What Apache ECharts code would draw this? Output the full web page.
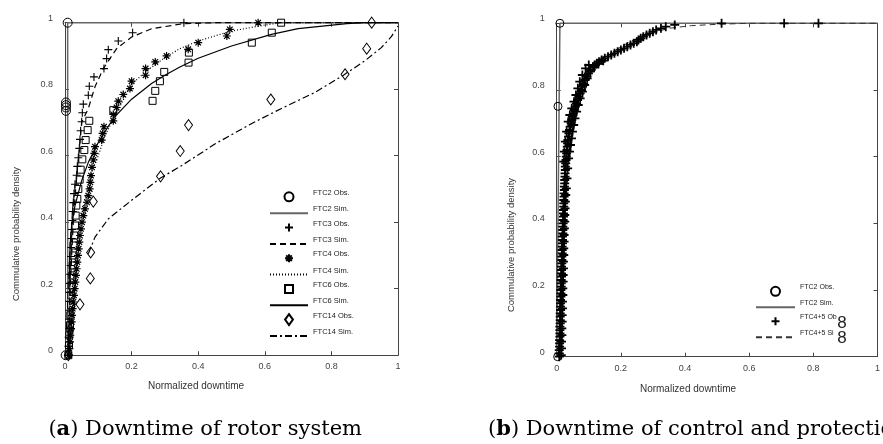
<!DOCTYPE html>
<html><head><meta charset="utf-8">
<script src="https://cdn.jsdelivr.net/npm/echarts@6/dist/echarts.min.js"></script>
<style>html,body{margin:0;padding:0;background:#fff}#c{width:883px;height:444px}</style>
</head><body><div id="c"></div>
<script>
// ---------- data (x = normalized downtime, y = cumulative probability) ----------
const xTickValues = [0, 0.2, 0.4, 0.6, 0.8, 1];
const leftNames = ['FTC2 Obs.','FTC2 Sim.','FTC3 Obs.','FTC3 Sim.','FTC4 Obs.','FTC4 Sim.','FTC6 Obs.','FTC6 Sim.','FTC14 Obs.','FTC14 Sim.'];
const rightNames = ['FTC2 Obs.','FTC2 Sim.','FTC4+5 Obs.','FTC4+5 Sim.'];

const ftc2ObsL = [[0.002,0],[0.003,0.735],[0.003,0.745],[0.003,0.752],[0.003,0.76],[0.008,1.0]];
const ftc2SimL = [[0.008,0],[0.008,1],[1,1]];
const ftc3ObsL = [[0.010,0],[0.010,0.027],[0.011,0.054],[0.012,0.081],[0.012,0.108],[0.013,0.135],[0.014,0.162],[0.014,0.189],[0.015,0.216],[0.016,0.243],[0.017,0.270],[0.018,0.297],[0.019,0.324],[0.020,0.351],[0.021,0.378],[0.022,0.405],[0.023,0.432],[0.025,0.459],[0.027,0.486],[0.030,0.514],[0.035,0.541],[0.037,0.568],[0.040,0.594],[0.043,0.622],[0.045,0.649],[0.047,0.675],[0.050,0.702],[0.052,0.729],[0.055,0.755],[0.070,0.782],[0.073,0.809],[0.087,0.837],[0.117,0.862],[0.125,0.892],[0.130,0.919],[0.160,0.945],[0.203,0.970],[0.357,1.0]];
const ftc3SimL = [[0.010,0],[0.013,0.1],[0.016,0.2],[0.020,0.3],[0.025,0.4],[0.032,0.5],[0.041,0.6],[0.050,0.70],[0.070,0.742],[0.090,0.807],[0.115,0.862],[0.155,0.922],[0.200,0.957],[0.260,0.982],[0.355,0.997],[0.45,1.0],[1,1]];
const ftc4ObsL = [[0.012,0],[0.013,0.02],[0.015,0.04],[0.016,0.06],[0.018,0.08],[0.020,0.10],[0.021,0.12],[0.023,0.14],[0.025,0.16],[0.027,0.18],[0.029,0.20],[0.031,0.22],[0.033,0.24],[0.035,0.26],[0.037,0.28],[0.039,0.30],[0.041,0.32],[0.043,0.34],[0.045,0.36],[0.048,0.38],[0.051,0.40],[0.055,0.42],[0.060,0.44],[0.066,0.46],[0.070,0.48],[0.074,0.50],[0.076,0.52],[0.078,0.54],[0.081,0.565],[0.085,0.587],[0.088,0.607],[0.090,0.627],[0.110,0.647],[0.113,0.667],[0.117,0.687],[0.145,0.705],[0.145,0.724],[0.155,0.745],[0.160,0.764],[0.175,0.784],[0.195,0.802],[0.200,0.824],[0.242,0.842],[0.242,0.862],[0.271,0.882],[0.305,0.900],[0.370,0.920],[0.400,0.940],[0.486,0.960],[0.495,0.980],[0.580,1.0]];
const ftc4SimL = [[0.012,0],[0.017,0.1],[0.023,0.2],[0.032,0.3],[0.045,0.4],[0.060,0.47],[0.080,0.55],[0.100,0.60],[0.120,0.66],[0.150,0.72],[0.200,0.815],[0.245,0.855],[0.300,0.895],[0.345,0.922],[0.400,0.945],[0.500,0.975],[0.600,0.993],[0.650,1.0],[1,1]];
const ftc6ObsL = [[0.010,0],[0.012,0.03],[0.013,0.06],[0.015,0.09],[0.016,0.12],[0.018,0.15],[0.019,0.18],[0.020,0.21],[0.022,0.24],[0.023,0.27],[0.025,0.30],[0.026,0.33],[0.028,0.36],[0.030,0.39],[0.032,0.42],[0.034,0.45],[0.037,0.47],[0.040,0.50],[0.044,0.528],[0.047,0.558],[0.052,0.589],[0.058,0.617],[0.062,0.647],[0.068,0.677],[0.073,0.705],[0.145,0.737],[0.263,0.765],[0.271,0.795],[0.285,0.824],[0.298,0.852],[0.371,0.880],[0.372,0.910],[0.561,0.940],[0.621,0.970],[0.649,1.0]];
const ftc6SimL = [[0.012,0.2],[0.015,0.33],[0.020,0.39],[0.030,0.45],[0.050,0.525],[0.070,0.58],[0.100,0.64],[0.145,0.712],[0.200,0.77],[0.260,0.817],[0.300,0.842],[0.345,0.867],[0.400,0.893],[0.500,0.93],[0.620,0.965],[0.700,0.982],[0.846,0.997],[0.900,1.0],[1,1]];
const ftc14ObsL = [[0.010,0],[0.015,0.077],[0.045,0.153],[0.076,0.231],[0.077,0.309],[0.085,0.462],[0.287,0.538],[0.346,0.614],[0.371,0.692],[0.618,0.769],[0.841,0.845],[0.906,0.922],[0.921,1.0]];
const ftc14SimL = [[0.070,0.305],[0.090,0.355],[0.130,0.41],[0.200,0.466],[0.287,0.533],[0.350,0.57],[0.450,0.635],[0.561,0.697],[0.650,0.742],[0.750,0.79],[0.836,0.842],[0.900,0.885],[0.950,0.925],[0.980,0.958],[1.0,0.99]];

const ftc2ObsR = [[0.003,0],[0.004,0.751],[0.010,1.0]];
const ftc2SimR = [[0.0,0],[0.010,1],[1,1]];
const ftc45ObsR = [[0.008,0.00],[0.008,0.01],[0.008,0.02],[0.009,0.03],[0.009,0.04],[0.009,0.05],[0.010,0.06],[0.010,0.07],[0.010,0.08],[0.010,0.09],[0.011,0.10],[0.011,0.11],[0.011,0.12],[0.011,0.13],[0.012,0.14],[0.012,0.15],[0.012,0.16],[0.012,0.17],[0.013,0.18],[0.013,0.19],[0.013,0.20],[0.014,0.21],[0.014,0.22],[0.014,0.23],[0.015,0.24],[0.015,0.25],[0.015,0.26],[0.015,0.27],[0.016,0.28],[0.016,0.29],[0.016,0.30],[0.017,0.31],[0.017,0.32],[0.017,0.33],[0.018,0.34],[0.018,0.35],[0.018,0.36],[0.019,0.37],[0.019,0.38],[0.019,0.39],[0.020,0.40],[0.020,0.41],[0.021,0.42],[0.021,0.43],[0.021,0.44],[0.022,0.45],[0.022,0.46],[0.022,0.47],[0.023,0.48],[0.023,0.49],[0.024,0.50],[0.024,0.51],[0.025,0.52],[0.025,0.53],[0.026,0.54],[0.026,0.55],[0.027,0.56],[0.027,0.57],[0.028,0.58],[0.029,0.59],[0.030,0.60],[0.031,0.61],[0.032,0.62],[0.033,0.63],[0.034,0.64],[0.035,0.65],[0.037,0.66],[0.038,0.67],[0.040,0.68],[0.042,0.69],[0.045,0.70],[0.047,0.71],[0.049,0.72],[0.052,0.73],[0.055,0.74],[0.058,0.75],[0.062,0.76],[0.065,0.77],[0.069,0.78],[0.073,0.79],[0.077,0.80],[0.080,0.81],[0.084,0.82],[0.088,0.83],[0.093,0.84],[0.099,0.85],[0.106,0.86],[0.113,0.87],[0.118,0.875],[0.125,0.88],[0.132,0.885],[0.140,0.89],[0.150,0.895],[0.160,0.90],[0.170,0.905],[0.180,0.91],[0.190,0.915],[0.200,0.92],[0.210,0.925],[0.220,0.93],[0.230,0.935],[0.240,0.94],[0.250,0.945],[0.255,0.95],[0.262,0.955],[0.270,0.96],[0.280,0.965],[0.290,0.97],[0.300,0.975],[0.310,0.98],[0.325,0.985],[0.340,0.99],[0.368,0.995],[0.514,1.0],[0.709,1.0],[0.816,1.0],
  [0.014,0.005],[0.015,0.025],[0.015,0.045],[0.016,0.065],[0.016,0.085],[0.017,0.105],[0.017,0.125],[0.018,0.145],[0.018,0.165],[0.019,0.185],[0.019,0.205],[0.020,0.225],[0.020,0.245],[0.021,0.265],[0.021,0.285],[0.022,0.305],[0.022,0.325],[0.023,0.345],[0.023,0.365],[0.024,0.385],[0.025,0.405],[0.025,0.425],[0.026,0.445],[0.027,0.465],[0.028,0.485],
  [0.030,0.505],[0.032,0.535],[0.034,0.565],[0.037,0.595],[0.040,0.615],[0.043,0.635],[0.046,0.655],[0.049,0.675],[0.053,0.695],[0.057,0.715],[0.062,0.735],[0.067,0.755],[0.073,0.775],[0.080,0.795],[0.087,0.815],[0.095,0.835],[0.104,0.855],[0.116,0.868],[0.130,0.878],[0.145,0.888],
  [0.022,0.585],[0.024,0.615],[0.027,0.645],[0.031,0.675],[0.036,0.705],[0.041,0.725],[0.047,0.745],[0.054,0.765],[0.060,0.785],[0.066,0.805],[0.072,0.825],[0.080,0.845],[0.090,0.865],[0.100,0.875]];
const ftc45SimR = [[0.005,0],[0.008,0.1],[0.011,0.2],[0.014,0.3],[0.018,0.4],[0.023,0.5],[0.030,0.6],[0.040,0.67],[0.055,0.72],[0.075,0.77],[0.104,0.835],[0.130,0.875],[0.154,0.90],[0.200,0.93],[0.250,0.955],[0.300,0.972],[0.350,0.985],[0.420,0.993],[0.500,0.997],[0.600,1.0],[1,1]];

// ---------- styling ----------
const SANS = '"Liberation Sans", Arial, sans-serif';
const SERIF = '"DejaVu Serif", serif';
const AX = '#444';
const plusPath = 'path://M5,0L5,10M0,5L10,5';
const starPath = 'path://M5,0L5,10M0,5L10,5M1.5,1.5L8.5,8.5M1.5,8.5L8.5,1.5';
// legend icons (padded boxes so the marker keeps its own size inside an 11px icon box)
const icoCircle = 'path://M0,0M11,11M1,5.5A4.5,4.5,0,1,1,10,5.5A4.5,4.5,0,1,1,1,5.5Z';
const icoPlus = 'path://M0,0M11,11M5.5,1.5L5.5,9.5M1.5,5.5L9.5,5.5';
const icoStar = 'path://M0,0M11,11M5.5,1.5L5.5,9.5M1.5,5.5L9.5,5.5M2.7,2.7L8.3,8.3M2.7,8.3L8.3,2.7';
const icoSquare = 'path://M0,0M11,11M1.5,1.5L9.5,1.5L9.5,9.5L1.5,9.5Z';
const icoDiamond = 'path://M5,0L10,7L5,14L0,7Z';
const hideMarker = {color: 'transparent', borderColor: 'transparent', borderWidth: 0};
const legendIcons = {'FTC2 Obs.': icoCircle, 'FTC3 Obs.': icoPlus, 'FTC4 Obs.': icoStar, 'FTC6 Obs.': icoSquare, 'FTC14 Obs.': icoDiamond, 'FTC4+5 Obs.': icoPlus};

function legendItem(name) {
  if (legendIcons[name]) return {name, icon: legendIcons[name]};
  return {name, itemStyle: hideMarker};
}

function xAx(grid, pos) {
  return {gridIndex: grid, type: 'value', min: 0, max: 1, interval: 0.2, position: pos,
    axisLine: {show: true, onZero: false, lineStyle: {color: AX, width: 1}},
    axisTick: {show: true, inside: true, length: 4, lineStyle: {color: AX}},
    axisLabel: {show: pos === 'bottom', color: '#444', fontSize: 9, margin: 7, fontFamily: SANS},
    splitLine: {show: false}};
}
function yAx(grid, pos) {
  return {gridIndex: grid, type: 'value', min: 0, max: 1, interval: 0.2, position: pos,
    axisLine: {show: true, onZero: false, lineStyle: {color: AX, width: 1}},
    axisTick: {show: true, inside: true, length: 4, lineStyle: {color: AX}},
    axisLabel: {show: pos === 'left', color: '#444', fontSize: 9, margin: 12, fontFamily: SANS, verticalAlign: 'bottom'},
    splitLine: {show: false}};
}
function lineS(name, data, xi, type, color, width) {
  return {name, type: 'line', xAxisIndex: xi, yAxisIndex: xi, data, symbol: 'none', clip: false,
    lineStyle: {color: color || '#000', width: width || 1.2, type: type || 'solid'},
    itemStyle: {color: color || '#000'}, z: 2, animation: false};
}
function scatS(name, data, xi, symbol, size, bw) {
  return {name, type: 'scatter', xAxisIndex: xi, yAxisIndex: xi, data, symbol, symbolSize: size, clip: false,
    itemStyle: {color: 'transparent', borderColor: '#000', borderWidth: bw || 1, opacity: 1}, z: 3, animation: false};
}
const legendText = {fontSize: 7.5, color: '#222', fontFamily: SANS,
  rich: {t: {fontSize: 7.5, color: '#222', fontFamily: SANS, padding: [0, 0, 8, 0]}}};

const option = {
  backgroundColor: '#fff',
  animation: false,
  grid: [
    {left: 65, top: 22.7, width: 333, height: 332.5},
    {left: 556.7, top: 23.3, width: 335, height: 333.4}
  ],
  xAxis: [xAx(0, 'bottom'), xAx(0, 'top'), xAx(1, 'bottom'), xAx(1, 'top')],
  yAxis: [yAx(0, 'left'), yAx(0, 'right'), yAx(1, 'left'), yAx(1, 'right')],
  legend: [
    {data: leftNames.map(legendItem), orient: 'vertical', left: 269, top: 188.8, padding: 0,
      itemWidth: 38, itemHeight: 11, itemGap: 1.9, selectedMode: false,
      formatter: n => '{t|' + n + '}', textStyle: legendText},
    {data: rightNames.map(legendItem), orient: 'vertical', left: 755, top: 283.8, padding: 0,
      itemWidth: 39, itemHeight: 11, itemGap: 2.0, selectedMode: false,
      formatter: function (n) {
        if (n === 'FTC4+5 Obs.') return '{t|FTC4+5 Ob}';
        if (n === 'FTC4+5 Sim.') return '{t|FTC4+5 Si}';
        return '{t|' + n + '}';
      },
      textStyle: {fontSize: 7, color: '#222', fontFamily: SANS,
        rich: {t: {fontSize: 7, color: '#222', fontFamily: SANS, padding: [0, 0, 8, 0]}}}}
  ],
  series: [
    scatS('FTC2 Obs.', ftc2ObsL, 0, 'circle', 9, 1),
    lineS('FTC2 Sim.', ftc2SimL, 0, 'solid', '#666', 1.5),
    scatS('FTC3 Obs.', ftc3ObsL, 0, plusPath, 8, 1.1),
    lineS('FTC3 Sim.', ftc3SimL, 0, [6, 4]),
    scatS('FTC4 Obs.', ftc4ObsL, 0, starPath, 8, 1.2),
    lineS('FTC4 Sim.', ftc4SimL, 0, [1, 2]),
    scatS('FTC6 Obs.', ftc6ObsL, 0, 'rect', 7, 1),
    lineS('FTC6 Sim.', ftc6SimL, 0, 'solid'),
    scatS('FTC14 Obs.', ftc14ObsL, 0, 'diamond', [8, 11], 1),
    lineS('FTC14 Sim.', ftc14SimL, 0, [7, 3, 2, 3]),
    scatS('FTC2 Obs.', ftc2ObsR, 2, 'circle', 8, 1),
    lineS('FTC2 Sim.', ftc2SimR, 2, 'solid', '#666', 1.5),
    scatS('FTC4+5 Obs.', ftc45ObsR, 2, plusPath, 9, 1.8),
    lineS('FTC4+5 Sim.', ftc45SimR, 2, [6, 4], '#333', 1)
  ],
  graphic: [
    {type: 'text', x: 196, y: 386, style: {text: 'Normalized downtime', font: '10px ' + SANS, fill: '#333', align: 'center', verticalAlign: 'middle'}},
    {type: 'text', x: 688, y: 389, style: {text: 'Normalized downtime', font: '10px ' + SANS, fill: '#333', align: 'center', verticalAlign: 'middle'}},
    {type: 'text', x: 16, y: 234, rotation: Math.PI / 2, style: {text: 'Commulative probability density', font: '9.5px ' + SANS, fill: '#333', align: 'center', verticalAlign: 'middle'}},
    {type: 'text', x: 511, y: 245, rotation: Math.PI / 2, style: {text: 'Commulative probability density', font: '9.5px ' + SANS, fill: '#333', align: 'center', verticalAlign: 'middle'}},
    {type: 'text', x: 842, y: 323, style: {text: '8', font: '17px "Liberation Sans Narrow", ' + SANS, fill: '#222', align: 'center', verticalAlign: 'middle'}},
    {type: 'text', x: 842, y: 338, style: {text: '8', font: '17px "Liberation Sans Narrow", ' + SANS, fill: '#222', align: 'center', verticalAlign: 'middle'}},
    {type: 'text', x: 362, y: 430, style: {text: '({b|a}) Downtime of rotor system', font: '21px ' + SERIF, fill: '#000', align: 'right', verticalAlign: 'middle',
      rich: {b: {fontWeight: 'bold', fontSize: 21, fontFamily: SERIF}}}},
    {type: 'text', x: 488, y: 430, style: {text: '({b|b}) Downtime of control and protection system', font: '21px ' + SERIF, fill: '#000', align: 'left', verticalAlign: 'middle',
      rich: {b: {fontWeight: 'bold', fontSize: 21, fontFamily: SERIF}}}}
  ]
};
const chart = echarts.init(document.getElementById('c'), null, {renderer: 'canvas'});
chart.setOption(option);
</script>
</body></html>
